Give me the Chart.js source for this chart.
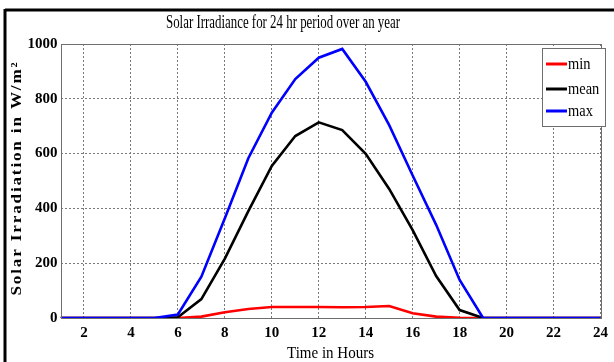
<!DOCTYPE html>
<html>
<head>
<meta charset="utf-8">
<script src="https://cdn.jsdelivr.net/npm/chart.js@4.4.1/dist/chart.umd.min.js"></script>
<style>
html,body{margin:0;padding:0;background:#fff;}
#wrap{width:614px;height:362px;position:relative;}
</style>
</head>
<body>
<div id="wrap"><canvas id="c" width="614" height="362"></canvas></div>
<script>
const hours = [1,2,3,4,5,6,7,8,9,10,11,12,13,14,15,16,17,18,19,20,21,22,23,24];
const minValues  = [0,0,0,0,0,0,5,21,33,40,40,40,39,40,44,17,5,1,0,0,0,0,0,0];
const meanValues = [0,0,0,0,0,3,69,217,390,555,664,714,686,599,471,321,153,29,0,0,0,0,0,0];
const maxValues  = [0,0,0,0,0,13,151,364,583,749,872,950,982,862,704,520,340,139,0,0,0,0,0,0];
const xTicks = [2,4,6,8,10,12,14,16,18,20,22,24];
const yTicks = [0,200,400,600,800,1000];
const seriesNames = ['min','mean','max'];
const titleText = 'Solar Irradiance for 24 hr period over an year';
const xTitle = 'Time in Hours';
const yTitle = 'Solar Irradiation in W/m\u00B2';

const toPts = v => hours.map((h,i)=>({x:h,y:v[i]}));

function fitText(ctx, text, x, y, targetW){
  const w = ctx.measureText(text).width;
  const s = targetW / w;
  ctx.save();
  ctx.translate(x, y);
  ctx.scale(s, 1);
  ctx.fillText(text, 0, 0);
  ctx.restore();
}

const decor = {
  id:'decor',
  afterDraw(chart){
    const ctx = chart.ctx, a = chart.chartArea;
    ctx.save();
    // plot box
    ctx.setLineDash([]);
    ctx.strokeStyle = '#6e6e6e'; ctx.lineWidth = 1;
    ctx.strokeRect(Math.round(a.left)+0.5, Math.round(a.top)+0.5, Math.round(a.right-a.left), Math.round(a.bottom-a.top));
    // outer figure frame (cropped)
    ctx.strokeStyle = '#000'; ctx.lineWidth = 3;
    ctx.beginPath(); ctx.moveTo(5,10); ctx.lineTo(614,10); ctx.stroke();
    ctx.beginPath(); ctx.moveTo(5,9); ctx.lineTo(5,362); ctx.stroke();
    // title
    ctx.fillStyle = '#000';
    ctx.font = '18px "Liberation Serif", serif';
    ctx.textAlign = 'center'; ctx.textBaseline = 'middle';
    fitText(ctx, titleText, 283, 23, 234);
    // x title
    ctx.font = '17px "Liberation Serif", serif';
    fitText(ctx, xTitle, (a.left+a.right)/2, 354, 87);
    // y title
    ctx.save();
    ctx.translate(17, 178);
    ctx.rotate(-Math.PI/2);
    ctx.font = 'bold 15px "Liberation Serif", serif';
    ctx.letterSpacing = '1.6px';
    fitText(ctx, yTitle, 0, 0, 235);
    ctx.restore();
    // legend
    const lx = 542, ly = 48, lw = 63, lh = 78;
    ctx.fillStyle = '#fff';
    ctx.fillRect(lx, ly, lw, lh);
    ctx.strokeStyle = '#6e6e6e'; ctx.lineWidth = 1;
    ctx.strokeRect(lx+0.5, ly+0.5, lw, lh);
    const rows = [64, 89, 111];
    chart.data.datasets.forEach((ds,i)=>{
      ctx.strokeStyle = ds.borderColor; ctx.lineWidth = 3;
      ctx.beginPath(); ctx.moveTo(546, rows[i]); ctx.lineTo(567, rows[i]); ctx.stroke();
      ctx.fillStyle = '#000';
      ctx.font = '17px "Liberation Serif", serif';
      ctx.textAlign = 'left'; ctx.textBaseline = 'middle';
      const w = ctx.measureText(ds.label).width;
      ctx.save(); ctx.translate(568, rows[i]+1); ctx.scale(0.85,1); ctx.fillText(ds.label,0,0); ctx.restore();
    });
    ctx.restore();
  }
};

const tickFont = {family:'"Liberation Serif", serif', size:15, weight:'bold'};

new Chart(document.getElementById('c'), {
  type:'line',
  data:{
    datasets:[
      {label:seriesNames[0], data:toPts(minValues), borderColor:'#ff0000', order:2},
      {label:seriesNames[1], data:toPts(meanValues), borderColor:'#000000', order:1},
      {label:seriesNames[2], data:toPts(maxValues), borderColor:'#0000ff', order:0}
    ]
  },
  options:{
    responsive:false,
    animation:false,
    devicePixelRatio:1,
    layout:{padding:{left:0,right:7,top:44,bottom:0}},
    elements:{line:{borderWidth:2.6,tension:0,fill:false}, point:{radius:0}},
    plugins:{legend:{display:false}, title:{display:false}, tooltip:{enabled:false}},
    scales:{
      x:{
        type:'linear', min:1, max:24,
        afterBuildTicks(s){ s.ticks = xTicks.map(v=>({value:v})); },
        afterFit(s){ s.height = 44; },
        grid:{color:'#7a7a7a', lineWidth:1, drawTicks:false, tickLength:0},
        border:{display:false, dash:[2,2]},
        ticks:{padding:6, color:'#000', font:tickFont, maxRotation:0, callback:v=>String(v)}
      },
      y:{
        type:'linear', min:0, max:1000,
        afterBuildTicks(s){ s.ticks = yTicks.map(v=>({value:v})); },
        afterFit(s){ s.width = 60.5; },
        grid:{color:'#7a7a7a', lineWidth:1, drawTicks:false, tickLength:0},
        border:{display:false, dash:[2,2]},
        ticks:{padding:3, color:'#000', font:tickFont, callback:v=>String(v)}
      }
    }
  },
  plugins:[decor]
});
</script>
</body>
</html>
